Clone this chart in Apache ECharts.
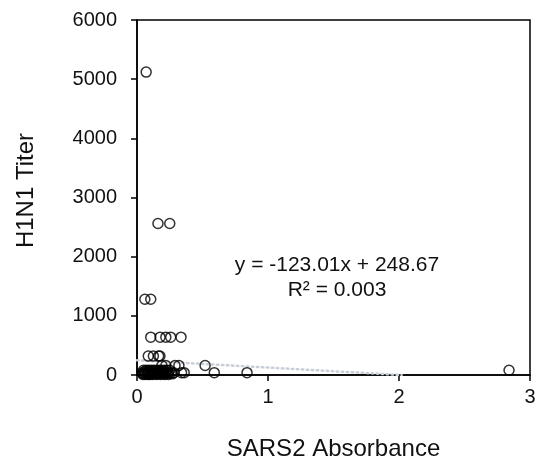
<!DOCTYPE html>
<html>
<head>
<meta charset="utf-8">
<script src="https://cdn.jsdelivr.net/npm/echarts@6/dist/echarts.min.js"></script>
<style>html,body{margin:0;padding:0;background:#fff}#c{width:539px;height:467px}</style>
</head>
<body>
<div id="c"></div>
<script>
// Data (x = SARS2 absorbance, y = H1N1 titer)
const absorbance = [
  0.07,
  0.16, 0.25,
  0.06, 0.105,
  0.105, 0.176, 0.22, 0.257, 0.336,
  0.086, 0.125, 0.165, 0.175,
  0.19, 0.22, 0.29, 0.32, 0.52,
  0.05, 0.07, 0.09, 0.11, 0.13, 0.15, 0.17, 0.19, 0.21, 0.23, 0.25,
  0.04, 0.06, 0.08, 0.10, 0.12, 0.14, 0.16, 0.18, 0.20, 0.22, 0.24, 0.26, 0.28,
  0.05, 0.08, 0.11, 0.14, 0.17, 0.20, 0.23, 0.27,
  0.045, 0.065, 0.085, 0.10, 0.12, 0.15, 0.18, 0.21, 0.24,
  0.06, 0.09, 0.13, 0.16, 0.19, 0.22,
  0.34, 0.36, 0.59, 0.84,
  2.84
];
const titer = [
  5120,
  2560, 2560,
  1280, 1280,
  640, 640, 640, 640, 640,
  320, 320, 320, 320,
  160, 160, 160, 160, 160,
  80, 80, 80, 80, 80, 80, 80, 80, 80, 80, 80,
  40, 40, 40, 40, 40, 40, 40, 40, 40, 40, 40, 40, 40,
  20, 20, 20, 20, 20, 20, 20, 20,
  10, 10, 10, 10, 10, 10, 10, 10, 10,
  60, 60, 60, 60, 60, 60,
  40, 40, 40, 40,
  80
];
const trendX = [0, 2.02];
const trendY = [248.67, 0];
const xTicks = [0, 1, 2, 3];
const yTicks = [0, 1000, 2000, 3000, 4000, 5000, 6000];
const eqText = ['y = -123.01x + 248.67', 'R\u00b2 = 0.003'];

const pts = absorbance.map((x, i) => [x, titer[i]]);
const trend = trendX.map((x, i) => [x, trendY[i]]);

const chart = echarts.init(document.getElementById('c'), null, {renderer: 'canvas'});
const font = 'Liberation Sans, Arial, sans-serif';
chart.setOption({
  animation: false,
  backgroundColor: '#fff',
  grid: {left: 137, right: 9, top: 20, bottom: 92, show: true, borderColor: '#000', borderWidth: 1.5, backgroundColor: 'transparent'},
  xAxis: {
    type: 'value', min: xTicks[0], max: xTicks[xTicks.length - 1], interval: 1,
    name: 'SARS2 Absorbance', nameLocation: 'middle', nameGap: 62,
    nameTextStyle: {fontFamily: font, fontSize: 24, color: '#111'},
    axisLine: {show: true, onZero: false, lineStyle: {color: '#000', width: 1.5}},
    axisTick: {show: true, inside: false, length: 6, lineStyle: {color: '#000', width: 1.5}},
    axisLabel: {fontFamily: font, fontSize: 20, color: '#111', margin: 12, formatter: v => String(v)},
    splitLine: {show: false}
  },
  yAxis: {
    type: 'value', min: yTicks[0], max: yTicks[yTicks.length - 1], interval: 1000,
    name: 'H1N1 Titer', nameLocation: 'middle', nameGap: 99, nameRotate: 90,
    nameTextStyle: {fontFamily: font, fontSize: 24, color: '#111', padding: [0, 0, 0, 14]},
    axisLine: {show: true, lineStyle: {color: '#000', width: 1.5}},
    axisTick: {show: true, inside: false, length: 6, lineStyle: {color: '#000', width: 1.5}},
    axisLabel: {fontFamily: font, fontSize: 20, color: '#111', margin: 20, formatter: v => String(v)},
    splitLine: {show: false}
  },
  graphic: [
    {type: 'text', style: {text: eqText[0], fontFamily: font, fontSize: 21, fill: '#111', textAlign: 'center', textVerticalAlign: 'middle', x: 337, y: 265}},
    {type: 'text', style: {text: eqText[1], fontFamily: font, fontSize: 21, fill: '#111', textAlign: 'center', textVerticalAlign: 'middle', x: 337, y: 290}}
  ],
  series: [
    {
      type: 'line', data: trend, symbol: 'none', z: 1,
      lineStyle: {color: '#c9ced8', width: 2.5, type: [1.5, 3.5], cap: 'round'}
    },
    {
      type: 'scatter', data: pts, symbol: 'circle', symbolSize: 10, z: 2,
      itemStyle: {color: 'rgba(0,0,0,0)', borderColor: '#000', borderWidth: 1.5}
    }
  ]
});
</script>
</body>
</html>
